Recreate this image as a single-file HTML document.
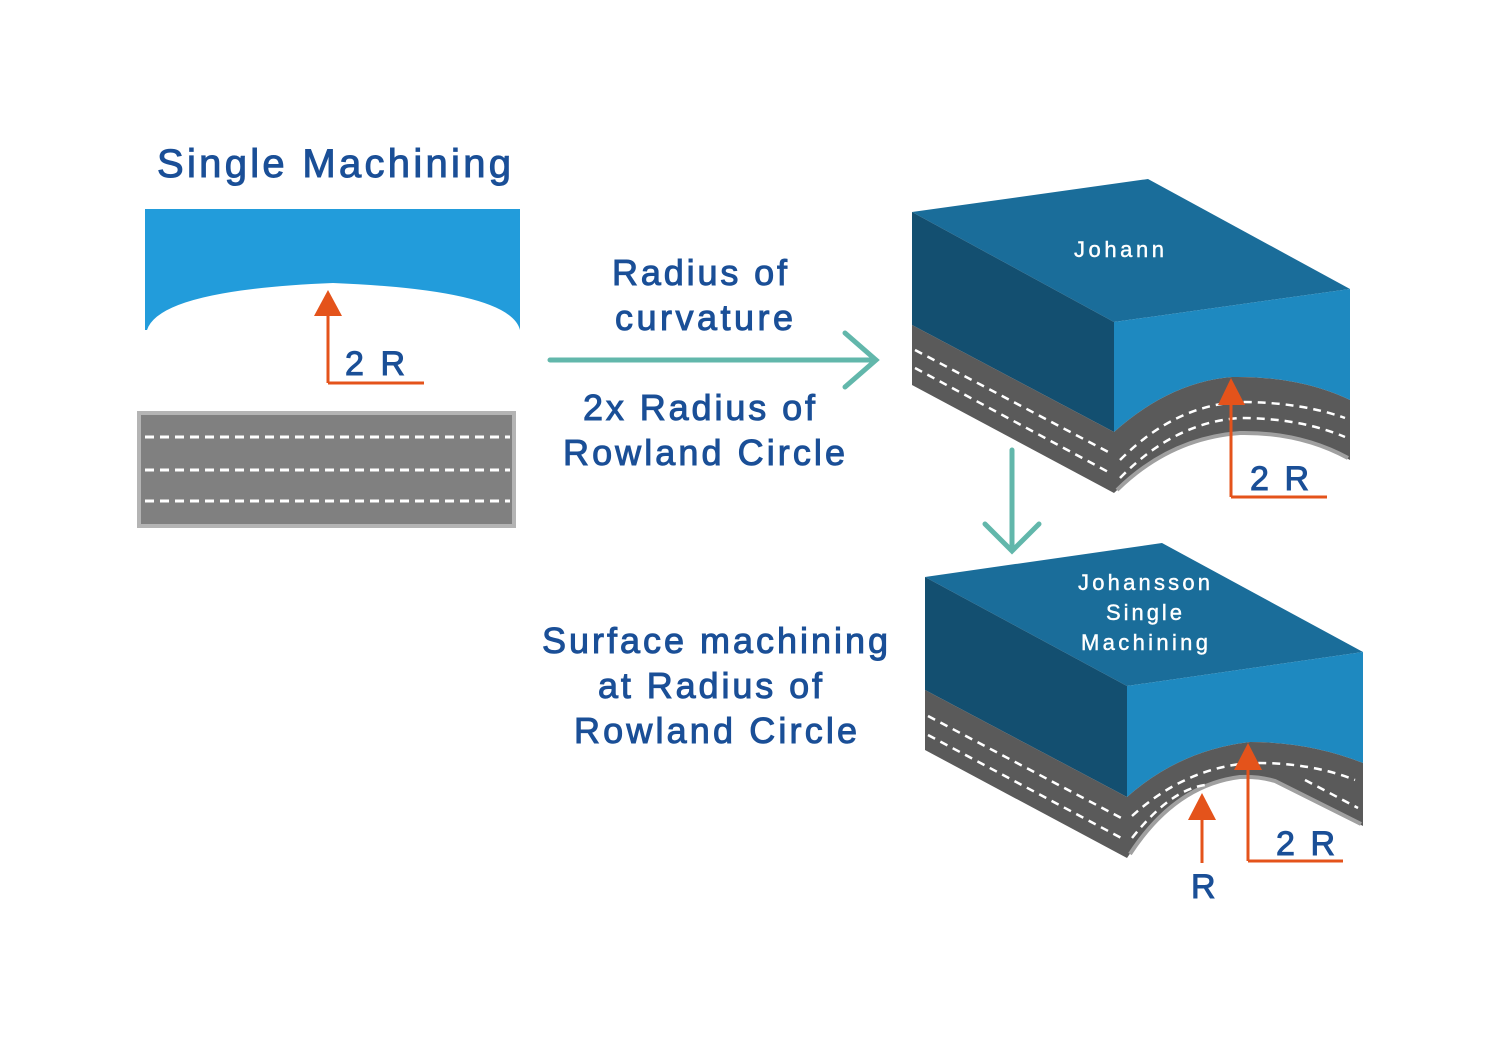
<!DOCTYPE html>
<html><head><meta charset="utf-8"><style>
html,body{margin:0;padding:0;background:#fff}
svg{display:block}
text{font-family:"Liberation Sans",sans-serif}
.b{fill:#1a4f97;stroke:#1a4f97;stroke-width:1}
.w{fill:#fff;stroke:#fff;stroke-width:0.4;font-size:22px}
</style></head><body>
<svg width="1500" height="1050" viewBox="0 0 1500 1050" xmlns="http://www.w3.org/2000/svg">
<rect width="1500" height="1050" fill="#fff"/>
<!-- left -->
<text x="157" y="177" class="b" font-size="40" textLength="354" lengthAdjust="spacing">Single Machining</text>
<path d="M145,209 H520 V330 Q510,290 333,283 Q160,290 147,330 H145 Z" fill="#229cdb"/>
<path d="M328,383 V312 M328,383 H424" stroke="#e4531b" stroke-width="3" fill="none"/>
<polygon points="328,290 314,316 342,316" fill="#e4531b"/>
<text x="345" y="375" class="b" font-size="34" textLength="60" lengthAdjust="spacing">2 R</text>
<rect x="139" y="413" width="375" height="113" fill="#808080" stroke="#b4b4b4" stroke-width="4"/>
<g stroke="#fff" stroke-width="3" stroke-dasharray="9,6">
<line x1="145" y1="437" x2="510" y2="437"/><line x1="145" y1="470" x2="510" y2="470"/><line x1="145" y1="501" x2="510" y2="501"/></g>
<!-- teal arrows -->
<g stroke="#62b7ab" stroke-width="5" fill="none" stroke-linecap="round">
<path d="M550,360 H876 M845,333 L876,360 L845,387"/>
<path d="M1012,450 V551 M985,524 L1012,551 L1039,524"/>
</g>
<g class="b" font-size="36">
<text x="612" y="285" textLength="175" lengthAdjust="spacing">Radius of</text>
<text x="615" y="330" textLength="178" lengthAdjust="spacing">curvature</text>
<text x="583" y="420" textLength="232" lengthAdjust="spacing">2x Radius of</text>
<text x="563" y="465" textLength="282" lengthAdjust="spacing">Rowland Circle</text>
<text x="542" y="653" textLength="346" lengthAdjust="spacing">Surface machining</text>
<text x="598" y="698" textLength="224" lengthAdjust="spacing">at Radius of</text>
<text x="574" y="743" textLength="283" lengthAdjust="spacing">Rowland Circle</text>
</g>
<!-- block 1 -->
<polygon points="912,212 1148,179 1350,289 1114,322" fill="#1a6d9a"/>
<polygon points="912,212 1114,322 1114,432 912,325" fill="#134f70"/>
<polygon points="912,325 1114,432 1114,493 912,385" fill="#5a5a5a"/>
<path d="M1114,322 L1350,289 V400 Q1300,376 1232,377 Q1170,382 1114,432 Z" fill="#1e89c0"/>
<path d="M1114,432 Q1170,382 1232,377 Q1300,376 1350,400 V460 Q1300,432 1240,433 Q1170,438 1114,493 Z" fill="#5a5a5a"/>
<path d="M1117,490 Q1170,438 1240,433 Q1300,432 1348,458" stroke="#a0a0a0" stroke-width="4" fill="none"/>
<g stroke="#fff" stroke-width="2.5" stroke-dasharray="8,6" fill="none">
<path d="M915,350 L1112,454"/><path d="M915,368 L1112,474"/>
<path d="M1120,460 Q1175,405 1240,402 Q1300,402 1345,418"/>
<path d="M1120,478 Q1175,422 1240,418 Q1300,418 1345,437"/>
</g>
<text x="1074" y="257" class="w" textLength="90" lengthAdjust="spacing">Johann</text>
<path d="M1231,497 V400 M1231,497 H1327" stroke="#e4531b" stroke-width="3" fill="none"/>
<polygon points="1231,378 1218,405 1245,405" fill="#e4531b"/>
<text x="1250" y="490" class="b" font-size="34" textLength="59" lengthAdjust="spacing">2 R</text>
<!-- block 2 -->
<polygon points="925,577 1162,543 1363,652 1127,686" fill="#1a6d9a"/>
<polygon points="925,577 1127,686 1127,797 925,690" fill="#134f70"/>
<polygon points="925,690 1127,797 1127,858 925,750" fill="#5a5a5a"/>
<path d="M1127,686 L1363,652 V763 Q1310,742 1250,742 Q1180,750 1127,797 Z" fill="#1e89c0"/>
<path d="M1127,797 Q1180,750 1250,742 Q1310,742 1363,763 V826 L1275,780 Q1255,776 1240,777 Q1175,785 1127,858 Z" fill="#5a5a5a"/>
<path d="M1130,854 Q1175,785 1240,777 Q1258,776 1275,781 L1361,824" stroke="#a0a0a0" stroke-width="4" fill="none"/>
<g stroke="#fff" stroke-width="2.5" stroke-dasharray="8,6" fill="none">
<path d="M928,716 L1125,820"/><path d="M928,735 L1125,840"/>
<path d="M1132,816 Q1185,768 1250,763 Q1310,762 1355,780"/>
<path d="M1132,838 Q1170,790 1205,785"/>
<path d="M1305,780 L1358,808"/>
</g>
<g class="w">
<text x="1078" y="590" textLength="132" lengthAdjust="spacing">Johansson</text>
<text x="1106" y="620" textLength="76" lengthAdjust="spacing">Single</text>
<text x="1081" y="650" textLength="127" lengthAdjust="spacing">Machining</text></g>
<path d="M1248,861 V768 M1248,861 H1343" stroke="#e4531b" stroke-width="3" fill="none"/>
<polygon points="1248,743 1234,770 1262,770" fill="#e4531b"/>
<text x="1276" y="855" class="b" font-size="34" textLength="59" lengthAdjust="spacing">2 R</text>
<path d="M1202,863 V815" stroke="#e4531b" stroke-width="3" fill="none"/>
<polygon points="1202,793 1188,820 1216,820" fill="#e4531b"/>
<text x="1191" y="898" class="b" font-size="34">R</text>
</svg>
</body></html>
